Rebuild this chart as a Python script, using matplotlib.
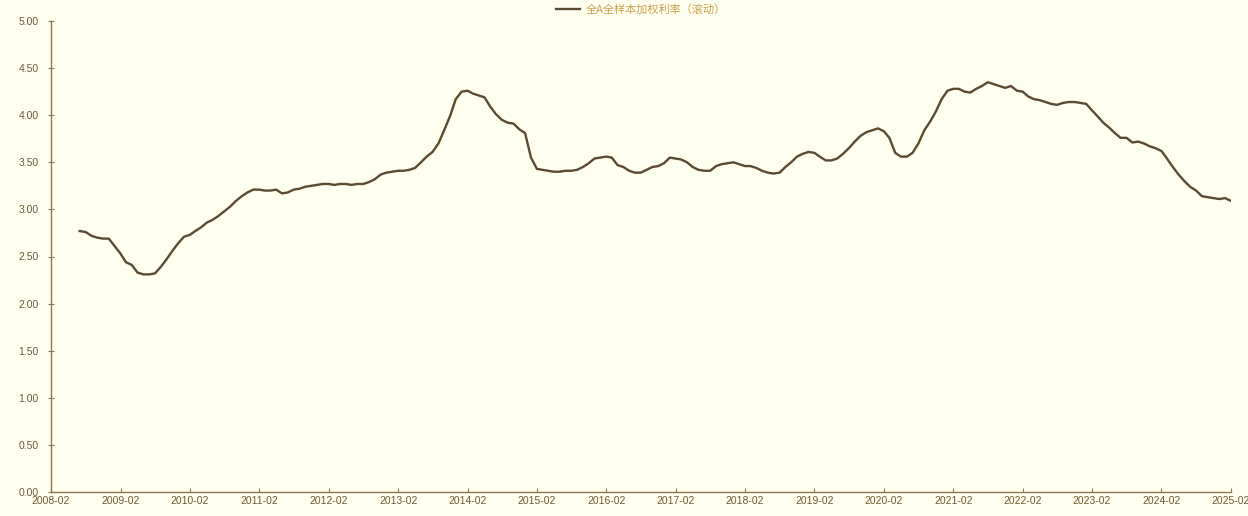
import matplotlib
matplotlib.use("Agg")
import matplotlib.pyplot as plt
import pandas as pd

plt.rcParams['font.family'] = ['Liberation Sans', 'Noto Sans CJK SC', 'DejaVu Sans']

series_name = "全A全样本加权利率（滚动）"
start_month = "2008-07"
values = [
    # 2008 Jul-Dec
    2.77, 2.76, 2.72, 2.70, 2.69, 2.69,
    # 2009
    2.61, 2.53, 2.44, 2.41, 2.33, 2.31, 2.31, 2.32, 2.39, 2.47, 2.56, 2.64,
    # 2010
    2.71, 2.73, 2.77, 2.81, 2.86, 2.89, 2.93, 2.98, 3.03, 3.09, 3.14, 3.18,
    # 2011
    3.21, 3.21, 3.20, 3.20, 3.21, 3.17, 3.18, 3.21, 3.22, 3.24, 3.25, 3.26,
    # 2012
    3.27, 3.27, 3.26, 3.27, 3.27, 3.26, 3.27, 3.27, 3.29, 3.32, 3.37, 3.39,
    # 2013
    3.40, 3.41, 3.41, 3.42, 3.44, 3.50, 3.56, 3.61, 3.70, 3.84, 3.99, 4.17,
    # 2014
    4.25, 4.26, 4.23, 4.21, 4.19, 4.09, 4.01, 3.95, 3.92, 3.91, 3.85, 3.81,
    # 2015
    3.55, 3.43, 3.42, 3.41, 3.40, 3.40, 3.41, 3.41, 3.42, 3.45, 3.49, 3.54,
    # 2016
    3.55, 3.56, 3.55, 3.47, 3.45, 3.41, 3.39, 3.39, 3.42, 3.45, 3.46, 3.49,
    # 2017
    3.55, 3.54, 3.53, 3.50, 3.45, 3.42, 3.41, 3.41, 3.46, 3.48, 3.49, 3.50,
    # 2018
    3.48, 3.46, 3.46, 3.44, 3.41, 3.39, 3.38, 3.39, 3.45, 3.50, 3.56, 3.59,
    # 2019
    3.61, 3.60, 3.56, 3.52, 3.52, 3.54, 3.59, 3.65, 3.72, 3.78, 3.82, 3.84,
    # 2020
    3.86, 3.83, 3.76, 3.60, 3.56, 3.56, 3.60, 3.70, 3.84, 3.93, 4.04, 4.17,
    # 2021
    4.26, 4.28, 4.28, 4.25, 4.24, 4.28, 4.31, 4.35, 4.33, 4.31, 4.29, 4.31,
    # 2022
    4.26, 4.25, 4.20, 4.17, 4.16, 4.14, 4.12, 4.11, 4.13, 4.14, 4.14, 4.13,
    # 2023
    4.12, 4.05, 3.99, 3.92, 3.87, 3.81, 3.76, 3.76, 3.71, 3.72, 3.70, 3.67,
    # 2024
    3.65, 3.62, 3.54, 3.45, 3.37, 3.30, 3.24, 3.20, 3.14, 3.13, 3.12, 3.11,
    # 2025 Jan-Feb
    3.12, 3.09,
]
y_ticks = [0.0, 0.5, 1.0, 1.5, 2.0, 2.5, 3.0, 3.5, 4.0, 4.5, 5.0]
x_tick_years = list(range(2008, 2026))

dates = pd.date_range(start=start_month, periods=len(values), freq="MS")

bg = "#FFFFF0"
line_c = "#5A4A30"
axis_c = "#8C7850"
tick_c = "#6E5A30"

fig = plt.figure(figsize=(12.48, 5.16), dpi=100, facecolor=bg)
ax = fig.add_axes([51/1248, 24/516, (1231-51)/1248, (492-21)/516])
ax.set_facecolor(bg)

ax.plot(dates, values, color=line_c, linewidth=1.7, label=series_name)

ax.set_ylim(0, 5)
ax.set_yticks(y_ticks)
ax.set_yticklabels([f"{v:.2f}" for v in y_ticks])
ticks = [pd.Timestamp(f"{y}-02-01") for y in x_tick_years]
ax.set_xticks(ticks)
ax.set_xticklabels([t.strftime("%Y-%m") for t in ticks])
ax.set_xlim(ticks[0], ticks[-1])

for s in ["top", "right"]:
    ax.spines[s].set_visible(False)
for s in ["left", "bottom"]:
    ax.spines[s].set_color(axis_c)
    ax.spines[s].set_linewidth(1.0)

ax.tick_params(axis="y", direction="inout", length=4, width=0.8, color=axis_c,
               labelsize=7.5, labelcolor="#6A5A38", pad=7)
ax.tick_params(axis="x", direction="in", length=3, width=0.8, color=axis_c,
               labelsize=7.5, labelcolor=tick_c, pad=3)

leg = ax.legend(loc="center", bbox_to_anchor=(0.5, 1.025), frameon=False,
                fontsize=8, handlelength=2.2, handletextpad=0.5,
                prop={'family': ['Noto Sans CJK SC', 'DejaVu Sans'], 'size': 8})
for t in leg.get_texts():
    t.set_color("#C8A048")

fig.savefig("out.png", dpi=100, facecolor=bg)
